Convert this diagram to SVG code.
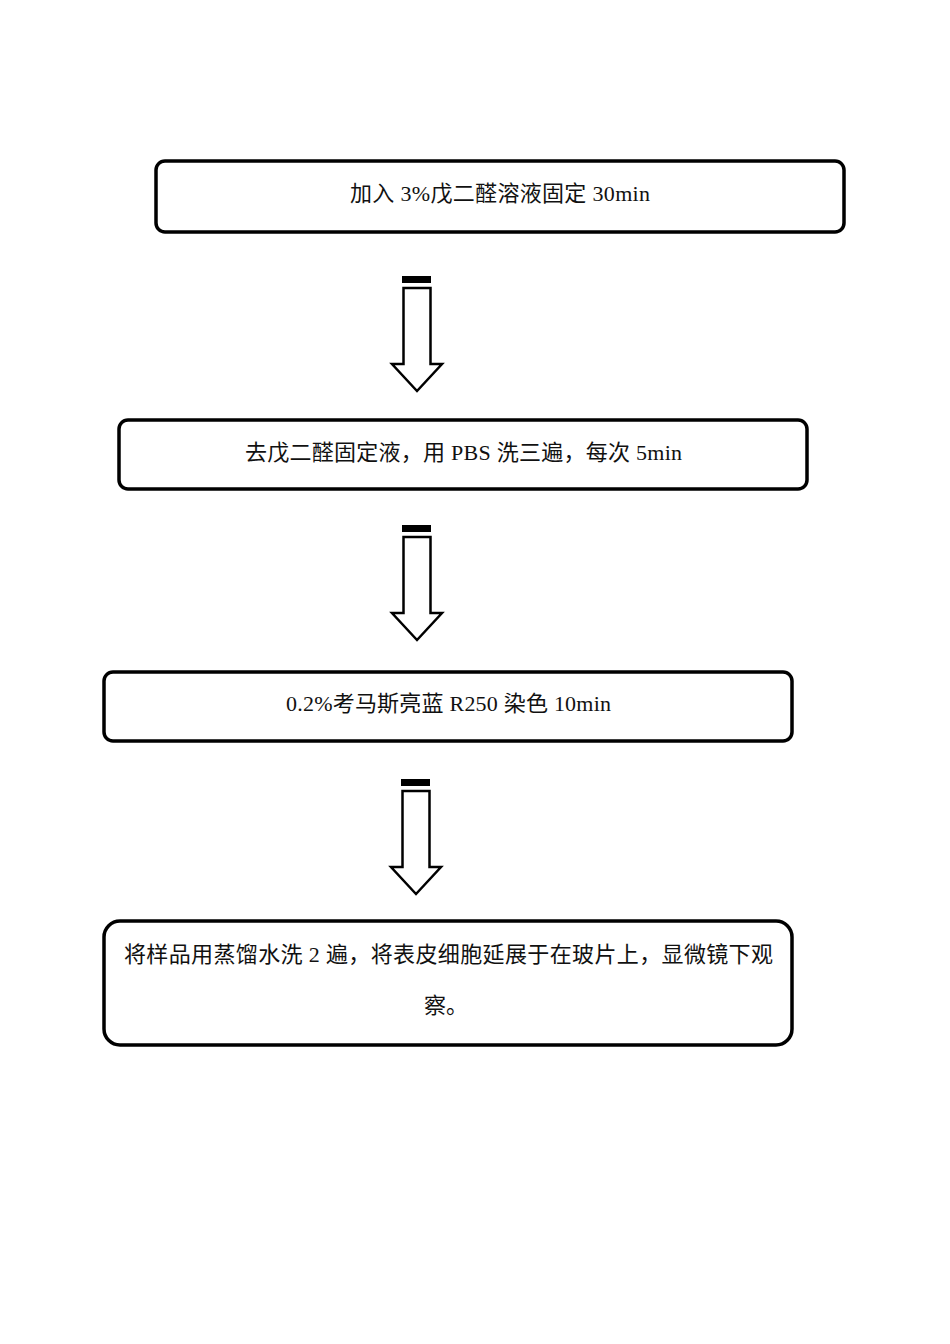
<svg xmlns="http://www.w3.org/2000/svg" width="950" height="1344" viewBox="0 0 950 1344">
<style>
.box{fill:#fff;stroke:#000;stroke-width:3.5}
.t{font-family:"Liberation Serif","Noto Sans CJK SC",serif;font-size:22px;fill:#111;text-anchor:middle}
.arr{fill:#fff;stroke:#000;stroke-width:2.5;stroke-linejoin:miter}
</style>
<rect width="950" height="1344" fill="#fff"/>
<g id="connectors">
  <g id="arrow1">
    <rect x="402" y="276" width="29" height="7" fill="#000"/>
    <path class="arr" d="M403.5,288 H430.5 V364 H442 L417,391 L392,364 H403.5 Z"/>
  </g>
  <g id="arrow2">
    <rect x="402" y="525" width="29" height="7" fill="#000"/>
    <path class="arr" d="M403.5,537 H430.5 V613 H442 L417,640 L392,613 H403.5 Z"/>
  </g>
  <g id="arrow3">
    <rect x="401" y="779" width="29" height="7" fill="#000"/>
    <path class="arr" d="M402.5,791 H429.5 V867 H441 L416,894 L391,867 H402.5 Z"/>
  </g>
</g>
<g id="node1">
  <rect class="box" x="156" y="161" width="688" height="71" rx="9"/>
  <text class="t" x="500" y="201" textLength="300" lengthAdjust="spacing">加入 3%戊二醛溶液固定 30min</text>
</g>
<g id="node2">
  <rect class="box" x="119" y="420" width="688" height="69" rx="9"/>
  <text class="t" x="463.5" y="460" textLength="437" lengthAdjust="spacing">去戊二醛固定液，用 PBS 洗三遍，每次 5min</text>
</g>
<g id="node3">
  <rect class="box" x="104" y="672" width="688" height="69" rx="9"/>
  <text class="t" x="448.5" y="711" textLength="325" lengthAdjust="spacing">0.2%考马斯亮蓝 R250 染色 10min</text>
</g>
<g id="node4">
  <rect class="box" x="104" y="921" width="688" height="124" rx="16"/>
  <text class="t" x="448.5" y="962" textLength="649" lengthAdjust="spacing">将样品用蒸馏水洗 2 遍，将表皮细胞延展于在玻片上，显微镜下观</text>
  <text class="t" x="446" y="1013">察。</text>
</g>
</svg>
